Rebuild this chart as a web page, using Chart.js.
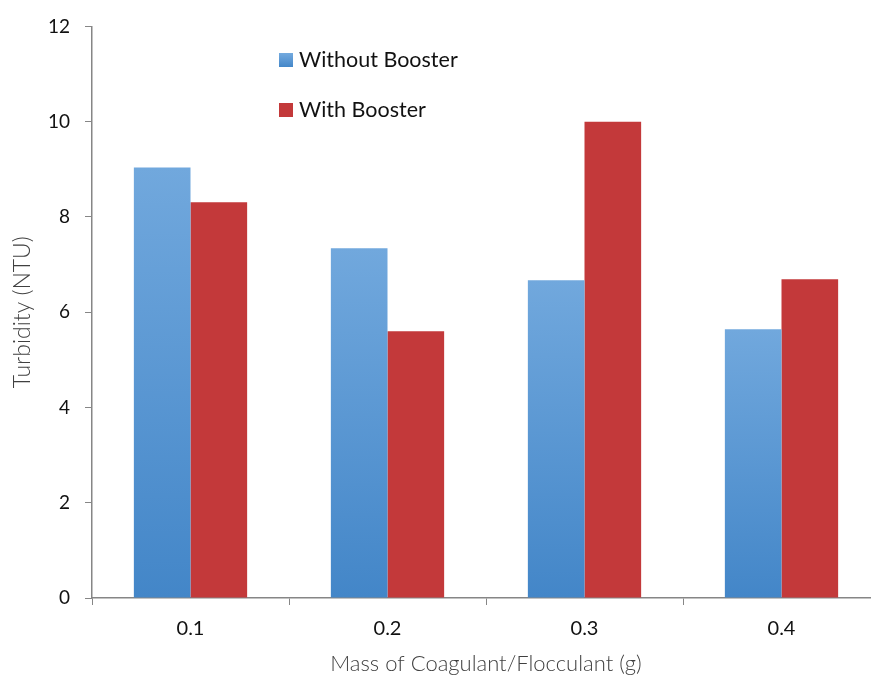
<!DOCTYPE html>
<html>
<head>
<meta charset="utf-8">
<title>Turbidity chart</title>
<script src="https://cdn.jsdelivr.net/npm/chart.js@4.4.0/dist/chart.umd.min.js"></script>
<style>
    html, body { margin: 0; padding: 0; background: #fff; overflow: hidden; }
    #wrap { width: 880px; height: 677px; }
</style>
</head>
<body>
<div id="wrap"><canvas id="chart" width="880" height="677"></canvas></div>
<script>
// ==========================================
// Datos
// ==========================================
const categories = ['0.1', '0.2', '0.3', '0.4'];
const withoutBooster = [9.04, 7.34, 6.67, 5.64];
const withBooster = [8.31, 5.60, 10.0, 6.69];
const yTicks = [0, 2, 4, 6, 8, 10, 12];

const FONT = 'Lato, "Open Sans", sans-serif';

// degradado por barra (estilo Excel)
function barGradient(top, bottom) {
    return (ctx) => {
        const chart = ctx.chart;
        if (!chart.chartArea || ctx.raw === undefined) return bottom;
        const y = chart.scales.y;
        const y0 = y.getPixelForValue(ctx.raw);
        const y1 = y.getPixelForValue(0);
        const g = chart.ctx.createLinearGradient(0, y0, 0, y1);
        g.addColorStop(0, top);
        g.addColorStop(1, bottom);
        return g;
    };
}

// ==========================================
// Leyenda dentro del area
// ==========================================
const insideLegend = {
    id: 'insideLegend',
    afterDraw(chart) {
        const ctx = chart.ctx;
        const rows = [
            { label: chart.data.datasets[0].label, top: '#74aadf', bottom: '#4487c9', y: 60 },
            { label: chart.data.datasets[1].label, top: '#c3393a', bottom: '#c3393a', y: 110 }
        ];
        ctx.save();
        rows.forEach(r => {
            const g = ctx.createLinearGradient(0, r.y - 7, 0, r.y + 7);
            g.addColorStop(0, r.top);
            g.addColorStop(1, r.bottom);
            ctx.fillStyle = g;
            ctx.fillRect(279, r.y - 7, 14, 14);
            ctx.fillStyle = '#111';
            ctx.font = '21.5px ' + FONT;
            ctx.textBaseline = 'middle';
            ctx.fillText(r.label, 299, r.y);
        });
        ctx.restore();
    }
};

new Chart(document.getElementById('chart'), {
    type: 'bar',
    data: {
        labels: categories,
        datasets: [
            {
                label: 'Without Booster',
                data: withoutBooster,
                backgroundColor: barGradient('#71a8dd', '#4386c8'),
                borderWidth: 0
            },
            {
                label: 'With Booster',
                data: withBooster,
                backgroundColor: '#c3393a',
                borderWidth: 0
            }
        ]
    },
    options: {
        responsive: false,
        animation: false,
        layout: { padding: { top: 26, right: 0, left: 0, bottom: 0 } },
        datasets: {
            bar: { categoryPercentage: 0.575, barPercentage: 1.0 }
        },
        plugins: {
            legend: { display: false },
            tooltip: { enabled: false }
        },
        scales: {
            x: {
                offset: true,
                grid: {
                    offset: true,
                    drawOnChartArea: false,
                    drawTicks: true,
                    tickLength: 7,
                    color: '#868686'
                },
                border: { color: '#868686', width: 1.5 },
                ticks: {
                    color: '#111',
                    padding: 12,
                    font: { family: FONT, size: 20 }
                },
                title: {
                    display: true,
                    text: 'Mass of Coagulant/Flocculant (g)',
                    color: '#404040',
                    padding: 0,
                    font: { family: FONT, size: 22, weight: '300' }
                },
                afterFit(scale) { scale.height = 79; }
            },
            y: {
                min: 0,
                max: 12,
                afterBuildTicks(scale) {
                    scale.ticks = yTicks.map(v => ({ value: v }));
                },
                grid: {
                    drawOnChartArea: false,
                    drawTicks: true,
                    tickLength: 7,
                    color: '#868686'
                },
                border: { color: '#868686', width: 1.5 },
                ticks: {
                    color: '#111',
                    padding: 15,
                    font: { family: FONT, size: 19 }
                },
                title: {
                    display: true,
                    text: 'Turbidity (NTU)',
                    color: '#404040',
                    padding: { top: 9, bottom: 0 },
                    font: { family: FONT, size: 23, weight: '300' }
                },
                afterFit(scale) { scale.width = 92; }
            }
        }
    },
    plugins: [insideLegend]
});
</script>
</body>
</html>
